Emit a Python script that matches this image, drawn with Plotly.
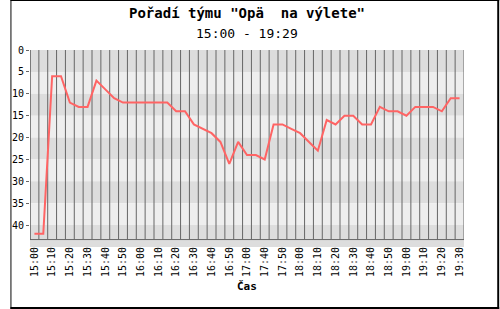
import plotly.graph_objects as go

# ---- data ----
title_text = 'Pořadí týmu "Opä  na výlete"'
subtitle_text = "15:00 - 19:29"
x_title = "Čas"

tick_labels = ["15:00", "15:10", "15:20", "15:30", "15:40", "15:50",
               "16:00", "16:10", "16:20", "16:30", "16:40", "16:50",
               "17:00", "17:40", "17:50", "18:00", "18:10", "18:20",
               "18:30", "18:40", "18:50", "19:00", "19:10", "19:20", "19:30"]

ranks = [42, 42, 6, 6, 12, 13, 13, 7, 9, 11,
         12, 12, 12, 12, 12, 12, 14, 14, 17, 18,
         19, 21, 26, 21, 24, 24, 25, 17, 17, 18,
         19, 21, 23, 16, 17, 15, 15, 17, 17, 13,
         14, 14, 15, 13, 13, 13, 14, 11, 11]

y_ticks = [0, 5, 10, 15, 20, 25, 30, 35, 40]

# ---- layout geometry ----
W, H = 500, 309
L, R, T, B = 20, 36, 50, 62
PW, PH = W - L - R, H - T - B
n = len(ranks)
x_idx = list(range(n))
Y_MAX = 45
GRID_BOTTOM = 43.3


def px(x):
    return (x - L) / PW


def py(y):
    return (H - B - y) / PH


FONT = "DejaVu Sans Mono"
GRID = "#666666"

shapes = []
# alternating horizontal bands
for i, y0 in enumerate(range(0, Y_MAX, 5)):
    shapes.append(dict(type="rect", xref="x", yref="y", x0=-0.5, x1=n - 0.5,
                       y0=y0, y1=y0 + 5, fillcolor="#dddddd" if i % 2 == 0 else "#eeeeee",
                       line=dict(width=0), layer="below"))
# vertical grid lines at category boundaries
for k in range(n + 1):
    shapes.append(dict(type="line", xref="x", yref="y", x0=k - 0.5, x1=k - 0.5,
                       y0=0, y1=GRID_BOTTOM, line=dict(color=GRID, width=1), layer="below"))
# bottom axis line
shapes.append(dict(type="line", xref="x", yref="y", x0=-0.5, x1=n - 0.5,
                   y0=GRID_BOTTOM, y1=GRID_BOTTOM, line=dict(color=GRID, width=1), layer="below"))
# outer frame (shadow style)
for (x0, y0, x1, y1) in [(0, 0, 1, H), (0, 0, W, 1), (W - 2, 0, W, H), (0, H - 2, W, H)]:
    shapes.append(dict(type="rect", xref="paper", yref="paper", x0=px(x0), x1=px(x1),
                       y0=py(y1), y1=py(y0), fillcolor="black", line=dict(width=0)))

fig = go.Figure()
fig.add_trace(go.Scatter(x=x_idx, y=ranks, mode="lines",
                         line=dict(color="#ff6464", width=2), hoverinfo="skip"))

fig.update_layout(
    width=W, height=H,
    margin=dict(l=L, r=R, t=T, b=B, pad=0),
    paper_bgcolor="white", plot_bgcolor="white",
    showlegend=False,
    shapes=shapes,
    xaxis=dict(range=[-0.5, n - 0.5], tickmode="array",
               tickvals=x_idx[::2], ticktext=tick_labels, tickangle=-90,
               tickfont=dict(family=FONT, size=10, color="black"),
               ticklabelstandoff=-3,
               showgrid=False, zeroline=False, showline=False, ticks=""),
    yaxis=dict(range=[Y_MAX, 0], tickmode="array", tickvals=y_ticks,
               tickfont=dict(family=FONT, size=10, color="black"),
               ticks="outside", ticklen=3, tickcolor=GRID,
               showgrid=False, zeroline=False, showline=False),
    annotations=[
        dict(text="<b>" + title_text + "</b>", xref="paper", yref="paper",
             x=0.5, y=py(13), xanchor="center", yanchor="middle", showarrow=False,
             font=dict(family=FONT, size=14, color="black")),
        dict(text=subtitle_text, xref="paper", yref="paper",
             x=0.5, y=py(33), xanchor="center", yanchor="middle", showarrow=False,
             font=dict(family=FONT, size=13, color="black")),
        dict(text="<b>" + x_title + "</b>", xref="paper", yref="paper",
             x=0.5, y=py(286), xanchor="center", yanchor="middle", showarrow=False,
             font=dict(family=FONT, size=11, color="black")),
    ],
)
# y-axis line
fig.add_shape(type="line", xref="x", yref="y", x0=-0.5, x1=-0.5, y0=0, y1=GRID_BOTTOM,
              line=dict(color="#555555", width=1))

fig.write_html("out.html")
